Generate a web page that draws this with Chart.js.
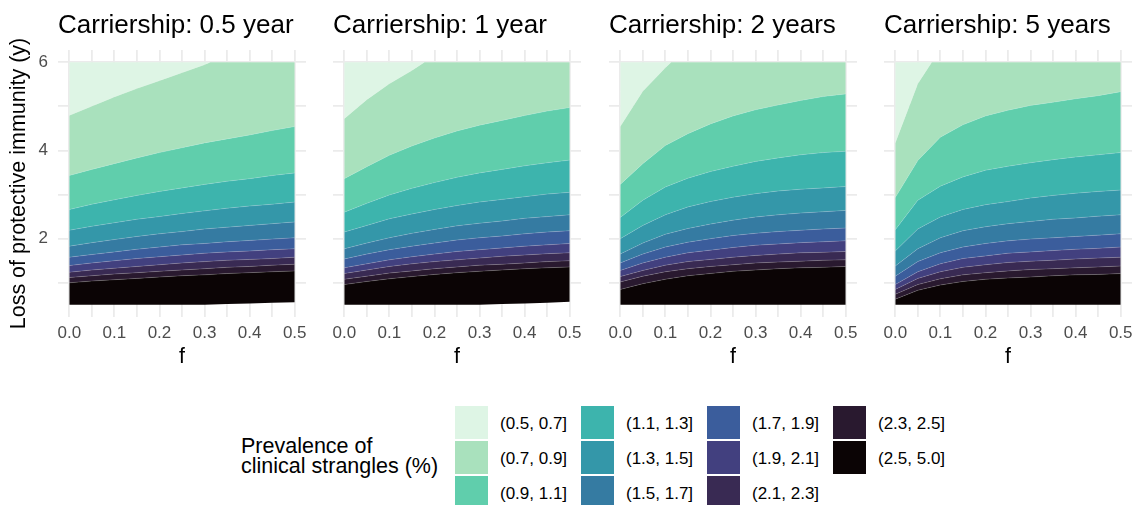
<!DOCTYPE html>
<html>
<head>
<meta charset="utf-8">
<title>Prevalence of clinical strangles</title>
<style>
  body { margin: 0; background: #fff; font-family: "Liberation Sans", Arial, sans-serif; }
  #wrap { position: relative; width: 1133px; height: 505px; overflow: hidden; }
  #wrap canvas { position: absolute; top: 0; }
  .key { position: absolute; width: 33px; height: 33px; }
  .lab { position: absolute; font-size: 17px; line-height: 33px; height: 33px; white-space: nowrap; color: #000; }
  #legtitle { position: absolute; left: 241px; top: 436px; font-size: 21.5px; line-height: 20px; color: #000; }
</style>
</head>
<body>
<div id="wrap">
  <div id="legtitle">Prevalence of<br>clinical strangles (%)</div>
</div>
<script src="https://cdn.jsdelivr.net/npm/chart.js@4.4.1/dist/chart.umd.min.js"></script>
<script>

// grid of f used for the contour edges
const fGrid = [0, 0.05, 0.1, 0.15, 0.2, 0.25, 0.3, 0.35, 0.4, 0.45, 0.5];
const yTop = 6;

const panelTitles = ['Carriership: 0.5 year', 'Carriership: 1 year', 'Carriership: 2 years', 'Carriership: 5 years'];

// legend bands, lightest first
const bandLabels = ['(0.5, 0.7]', '(0.7, 0.9]', '(0.9, 1.1]', '(1.1, 1.3]', '(1.3, 1.5]', '(1.5, 1.7]',
                    '(1.7, 1.9]', '(1.9, 2.1]', '(2.1, 2.3]', '(2.3, 2.5]', '(2.5, 5.0]'];
const bandColors = ['#DEF5E5', '#A9E1BD', '#60CEAC', '#3DB4AD', '#3497A9', '#357BA2',
                    '#3B5D9C', '#42407F', '#392A53', '#29192F', '#0B0405'];

const xTickValues = [0, 0.1, 0.2, 0.3, 0.4, 0.5];
const xTickLabels = ['0.0', '0.1', '0.2', '0.3', '0.4', '0.5'];
const yTickValues = [2, 4, 6];
const yTickLabels = ['2', '4', '6'];
const yGrid = [1, 2, 3, 4, 5, 6];

// contour edges, rows: lower edge, 2.5, 2.3, 2.1, 1.9, 1.7, 1.5, 1.3, 1.1, 0.9
const edgesHalf = [
  [0.50, 0.50, 0.50, 0.50, 0.50, 0.50, 0.50, 0.52, 0.53, 0.55, 0.56],
  [1.00, 1.04, 1.07, 1.10, 1.13, 1.16, 1.18, 1.21, 1.23, 1.25, 1.27],
  [1.12, 1.16, 1.20, 1.23, 1.26, 1.29, 1.32, 1.35, 1.37, 1.40, 1.42],
  [1.24, 1.29, 1.33, 1.37, 1.41, 1.45, 1.48, 1.51, 1.53, 1.55, 1.58],
  [1.39, 1.45, 1.50, 1.55, 1.59, 1.63, 1.67, 1.70, 1.72, 1.75, 1.77],
  [1.58, 1.64, 1.70, 1.76, 1.81, 1.86, 1.89, 1.93, 1.96, 1.99, 2.02],
  [1.83, 1.91, 1.98, 2.05, 2.11, 2.16, 2.22, 2.26, 2.30, 2.34, 2.38],
  [2.19, 2.28, 2.36, 2.44, 2.50, 2.57, 2.63, 2.69, 2.74, 2.78, 2.83],
  [2.66, 2.78, 2.88, 2.98, 3.07, 3.15, 3.23, 3.30, 3.36, 3.43, 3.49],
  [3.43, 3.57, 3.70, 3.83, 3.95, 4.06, 4.17, 4.26, 4.35, 4.45, 4.54]
];
const lightHalfF = [0, 0.05, 0.1, 0.15, 0.2, 0.25, 0.3, 0.313, 0.5];
const lightHalfY = [4.79, 5.00, 5.21, 5.40, 5.58, 5.76, 5.94, 6, 6];

const edgesOne = [
  [0.50, 0.50, 0.50, 0.50, 0.50, 0.50, 0.50, 0.52, 0.53, 0.55, 0.57],
  [0.96, 1.03, 1.09, 1.14, 1.19, 1.23, 1.26, 1.29, 1.32, 1.34, 1.36],
  [1.08, 1.15, 1.22, 1.27, 1.32, 1.36, 1.40, 1.42, 1.45, 1.48, 1.50],
  [1.21, 1.29, 1.37, 1.43, 1.48, 1.52, 1.56, 1.60, 1.63, 1.66, 1.68],
  [1.34, 1.43, 1.52, 1.59, 1.65, 1.71, 1.75, 1.79, 1.83, 1.86, 1.89],
  [1.54, 1.65, 1.75, 1.83, 1.90, 1.97, 2.02, 2.06, 2.11, 2.15, 2.18],
  [1.77, 1.90, 2.02, 2.12, 2.21, 2.29, 2.35, 2.40, 2.46, 2.50, 2.54],
  [2.15, 2.30, 2.45, 2.56, 2.66, 2.75, 2.83, 2.89, 2.95, 3.01, 3.05],
  [2.60, 2.80, 2.99, 3.14, 3.27, 3.39, 3.49, 3.57, 3.65, 3.72, 3.78],
  [3.36, 3.63, 3.89, 4.10, 4.28, 4.44, 4.57, 4.68, 4.79, 4.89, 4.97]
];
const lightOneF = [0, 0.05, 0.1, 0.15, 0.178, 0.5];
const lightOneY = [4.72, 5.15, 5.51, 5.81, 6, 6];

const edgesTwo = [
  [0.50, 0.50, 0.50, 0.50, 0.50, 0.50, 0.50, 0.50, 0.50, 0.50, 0.50],
  [0.85, 0.98, 1.08, 1.16, 1.21, 1.26, 1.29, 1.32, 1.34, 1.35, 1.37],
  [1.02, 1.15, 1.25, 1.32, 1.37, 1.41, 1.45, 1.47, 1.49, 1.51, 1.52],
  [1.14, 1.28, 1.40, 1.48, 1.53, 1.58, 1.62, 1.65, 1.68, 1.69, 1.71],
  [1.28, 1.45, 1.58, 1.68, 1.74, 1.80, 1.85, 1.88, 1.91, 1.93, 1.95],
  [1.45, 1.65, 1.81, 1.92, 2.00, 2.07, 2.12, 2.16, 2.19, 2.22, 2.24],
  [1.65, 1.90, 2.10, 2.23, 2.33, 2.42, 2.49, 2.54, 2.58, 2.61, 2.64],
  [2.00, 2.30, 2.54, 2.72, 2.84, 2.94, 3.02, 3.08, 3.12, 3.15, 3.18],
  [2.48, 2.87, 3.17, 3.37, 3.52, 3.64, 3.75, 3.83, 3.90, 3.95, 3.98],
  [3.23, 3.70, 4.11, 4.38, 4.60, 4.78, 4.92, 5.03, 5.13, 5.22, 5.28]
];
const lightTwoF = [0, 0.05, 0.1, 0.113, 0.5];
const lightTwoY = [4.54, 5.34, 5.87, 6, 6];

const edgesFive = [
  [0.50, 0.50, 0.50, 0.50, 0.50, 0.50, 0.50, 0.50, 0.50, 0.50, 0.50],
  [0.63, 0.83, 0.95, 1.03, 1.08, 1.11, 1.13, 1.16, 1.18, 1.19, 1.21],
  [0.74, 0.96, 1.09, 1.18, 1.23, 1.27, 1.30, 1.32, 1.34, 1.36, 1.38],
  [0.85, 1.10, 1.25, 1.35, 1.41, 1.46, 1.49, 1.51, 1.54, 1.56, 1.58],
  [0.96, 1.25, 1.43, 1.55, 1.61, 1.67, 1.70, 1.73, 1.76, 1.78, 1.81],
  [1.15, 1.48, 1.68, 1.81, 1.89, 1.95, 1.99, 2.02, 2.05, 2.08, 2.11],
  [1.38, 1.77, 2.02, 2.18, 2.27, 2.34, 2.39, 2.44, 2.47, 2.51, 2.54],
  [1.72, 2.22, 2.49, 2.66, 2.77, 2.84, 2.92, 2.98, 3.03, 3.07, 3.10],
  [2.20, 2.87, 3.19, 3.40, 3.55, 3.64, 3.72, 3.79, 3.85, 3.90, 3.95],
  [2.93, 3.77, 4.30, 4.58, 4.78, 4.91, 5.02, 5.09, 5.17, 5.24, 5.33]
];
const lightFiveF = [0, 0.05, 0.081, 0.5];
const lightFiveY = [4.17, 5.51, 6, 6];

const panels = [
  [edgesHalf, lightHalfF, lightHalfY],
  [edgesOne, lightOneF, lightOneY],
  [edgesTwo, lightTwoF, lightTwoY],
  [edgesFive, lightFiveF, lightFiveY]
];

const panelLeft = [58, 333, 609, 884];
const panelWidth = 248;
const fontFamily = '"Liberation Sans", Arial, sans-serif';
const seam = 'rgba(255,255,255,0.22)';

const wrap = document.getElementById('wrap');

// draw each panel's title at the left of its plot area
const panelTitle = {
    id: 'panelTitle',
    afterDraw(chart, args, opts) {
        let ctx = chart.ctx;
        ctx.save();
        ctx.font = '26px ' + fontFamily;
        ctx.fillStyle = '#000';
        ctx.textBaseline = 'alphabetic';
        ctx.fillText(opts.text, chart.chartArea.left, 33);
        ctx.restore();
    }
};

function makeDatasets(edges, lightF, lightY) {
    let n = bandColors.length;
    let datasets = edges.map(function(ys, i) {
        return {
            data: fGrid.map(function(f, j) { return {x: f, y: ys[j]}; }),
            fill: i === 0 ? false : '-1',
            backgroundColor: i === 0 ? 'rgba(0,0,0,0)' : bandColors[n - i],
            borderColor: i === 0 ? 'rgba(0,0,0,0)' : seam,
            borderWidth: i === 0 ? 0 : 0.7
        };
    });
    datasets.push({
        data: lightF.map(function(f, j) { return {x: f, y: lightY[j]}; }),
        fill: '-1',
        backgroundColor: bandColors[1],
        borderColor: seam,
        borderWidth: 0.5
    });
    datasets.push({
        data: [{x: fGrid[0], y: yTop}, {x: fGrid[fGrid.length - 1], y: yTop}],
        fill: '-1',
        backgroundColor: bandColors[0],
        borderWidth: 0
    });
    return datasets;
}

function findLabel(values, labels, v) {
    for (let k = 0; k < values.length; k++) {
        if (Math.abs(values[k] - v) < 1e-9) return labels[k];
    }
    return '';
}

panels.forEach(function(p, idx) {
    let first = idx === 0;
    let canvasLeft = first ? 0 : panelLeft[idx] - 20;
    let padLeft = first ? 0 : 20;
    let width = padLeft + (first ? panelLeft[0] : 0) + panelWidth + 14;

    let canvas = document.createElement('canvas');
    canvas.width = width;
    canvas.height = 370;
    canvas.style.left = canvasLeft + 'px';
    canvas.style.width = width + 'px';
    canvas.style.height = '370px';
    wrap.appendChild(canvas);

    new Chart(canvas.getContext('2d'), {
        type: 'line',
        data: { datasets: makeDatasets(p[0], p[1], p[2]) },
        plugins: [panelTitle],
        options: {
            responsive: false,
            animation: false,
            devicePixelRatio: 1,
            layout: { padding: { top: 50, left: padLeft, right: 14, bottom: 0 } },
            elements: { point: { radius: 0 }, line: { tension: 0 } },
            plugins: {
                legend: { display: false },
                tooltip: { enabled: false },
                filler: { drawTime: 'beforeDatasetsDraw' },
                panelTitle: { text: panelTitles[idx] }
            },
            scales: {
                x: {
                    type: 'linear',
                    min: -0.025,
                    max: 0.525,
                    afterFit: function(s) { s.height = 53; },
                    afterBuildTicks: function(s) { s.ticks = fGrid.map(function(v) { return {value: v}; }); },
                    border: { display: false },
                    grid: { color: '#EBEBEB', lineWidth: 1.8, drawTicks: false },
                    ticks: {
                        autoSkip: false,
                        maxRotation: 0,
                        padding: 6,
                        color: '#4D4D4D',
                        font: { family: fontFamily, size: 17 },
                        callback: function(v) { return findLabel(xTickValues, xTickLabels, v); }
                    },
                    title: {
                        display: true,
                        text: 'f',
                        color: '#000',
                        padding: { top: 0, bottom: 0 },
                        font: { family: fontFamily, size: 21.5 }
                    }
                },
                y: {
                    type: 'linear',
                    min: 0.225,
                    max: 6.275,
                    afterFit: function(s) { s.width = first ? panelLeft[0] : 0; },
                    afterBuildTicks: function(s) { s.ticks = yGrid.map(function(v) { return {value: v}; }); },
                    border: { display: false },
                    grid: { color: '#EBEBEB', lineWidth: 1.8, drawTicks: false },
                    ticks: {
                        display: first,
                        padding: 10,
                        color: '#4D4D4D',
                        font: { family: fontFamily, size: 17 },
                        callback: function(v) { return findLabel(yTickValues, yTickLabels, v); }
                    },
                    title: {
                        display: first,
                        text: 'Loss of protective immunity (y)',
                        color: '#000',
                        padding: { top: 6, bottom: 0 },
                        font: { family: fontFamily, size: 21.5 }
                    }
                }
            }
        }
    });
});

// legend: 3 rows, filled column by column
bandLabels.forEach(function(label, k) {
    let col = Math.floor(k / 3);
    let row = k % 3;
    let key = document.createElement('div');
    key.className = 'key';
    key.style.left = (455 + col * 126) + 'px';
    key.style.top = (406 + row * 35) + 'px';
    key.style.background = bandColors[k];
    wrap.appendChild(key);

    let lab = document.createElement('div');
    lab.className = 'lab';
    lab.style.left = (500 + col * 126) + 'px';
    lab.style.top = (407 + row * 35) + 'px';
    lab.textContent = label;
    wrap.appendChild(lab);
});

</script>
</body>
</html>
